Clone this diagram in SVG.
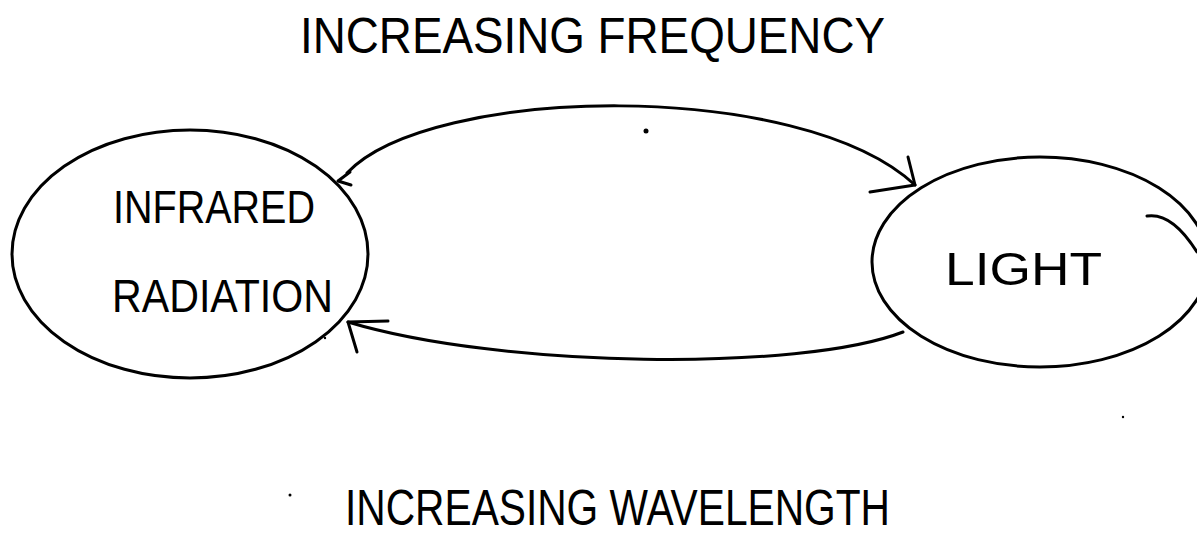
<svg xmlns="http://www.w3.org/2000/svg" width="1197" height="536" viewBox="0 0 1197 536">
<style>
.ln{fill:none;stroke:#000;stroke-width:3;stroke-linecap:round;stroke-linejoin:round}
.t{font-family:"Liberation Sans","DejaVu Sans",sans-serif;fill:#000}
</style>
<rect width="1197" height="536" fill="#fff"/>
<text class="t" x="300" y="53" font-size="50" textLength="585" lengthAdjust="spacingAndGlyphs">INCREASING FREQUENCY</text>
<g id="infrared">
<ellipse class="ln" cx="190" cy="254" rx="178" ry="124"/>
<text class="t" x="113" y="223" font-size="46" textLength="202" lengthAdjust="spacingAndGlyphs">INFRARED</text>
<text class="t" x="112" y="312" font-size="46" textLength="221" lengthAdjust="spacingAndGlyphs">RADIATION</text>
</g>
<g id="light">
<ellipse class="ln" cx="1040" cy="262" rx="168" ry="105"/>
<text class="t" x="945" y="285" font-size="46" textLength="157" lengthAdjust="spacingAndGlyphs">LIGHT</text>
</g>
<g id="connectors">
<path class="ln" d="M347 173 C430 85 800 78 915 185"/>
<path class="ln" d="M908 157 L915 185 L870 192"/>
<path class="ln" d="M350 172 L338 181 L351 185"/>
<path class="ln" d="M903 332 C800 372 500 368 348 322"/>
<path class="ln" d="M388 321 L348 322 L357 352"/>
<path class="ln" d="M1147 216 Q1172 212 1197 252"/>
</g>
<circle cx="646" cy="131" r="2.5"/>
<circle cx="325" cy="338" r="1.2"/>
<circle cx="290" cy="495" r="1.5"/>
<circle cx="1123" cy="417" r="1.2"/>
<text class="t" x="345" y="525" font-size="50" textLength="545" lengthAdjust="spacingAndGlyphs">INCREASING WAVELENGTH</text>
</svg>
